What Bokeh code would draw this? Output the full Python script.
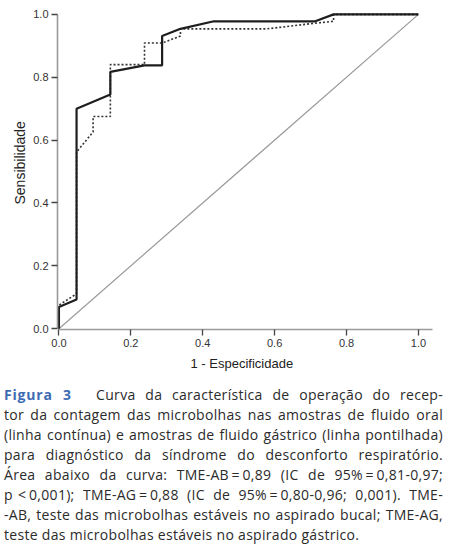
from bokeh.plotting import figure
from bokeh.models import Range1d, FixedTicker, PrintfTickFormatter, Title, Div, Column
from bokeh.embed import file_html
from bokeh.resources import INLINE

# ROC curves
solid_x = [0, 0, 0.049, 0.049, 0.143, 0.143, 0.238, 0.287, 0.287, 0.338, 0.431, 0.713, 0.764, 1.0]
solid_y = [0, 0.069, 0.093, 0.700, 0.745, 0.817, 0.838, 0.838, 0.931, 0.954, 0.978, 0.978, 1.0, 1.0]

dotted_x = [0, 0, 0.049, 0.049, 0.095, 0.095, 0.143, 0.143, 0.238, 0.238, 0.287, 0.338, 0.338, 0.579, 0.713, 0.764, 0.764, 1.0]
dotted_y = [0, 0.075, 0.111, 0.562, 0.626, 0.675, 0.675, 0.840, 0.840, 0.909, 0.909, 0.931, 0.954, 0.954, 0.972, 0.978, 1.0, 1.0]

ref_x = [0, 1]
ref_y = [0, 1]

tick_values = [0.0, 0.2, 0.4, 0.6, 0.8, 1.0]
x_label = "1 - Especificidade"
y_label = "Sensibilidade"

T = "\u2009"  # thin space
caption_lines = [
    '<span style="color:#3d6cb3;font-weight:bold;letter-spacing:0.8px">Figura 3</span>&ensp;&ensp; Curva da característica de operação do recep-',
    "tor da contagem das microbolhas nas amostras de fluido oral",
    "(linha contínua) e amostras de fluido gástrico (linha pontilhada)",
    "para diagnóstico da síndrome do desconforto respiratório.",
    f"Área abaixo da curva: TME-AB{T}={T}0,89 (IC de 95%{T}={T}0,81-0,97;",
    f"p{T}{T}&lt;{T}0,001); TME-AG{T}={T}0,88 (IC de 95%{T}={T}0,80-0,96; 0,001). TME-",
    "-AB, teste das microbolhas estáveis no aspirado bucal; TME-AG,",
    "teste das microbolhas estáveis no aspirado gástrico.",
]

p = figure(frame_width=375, frame_height=317,
           min_border_left=57, min_border_right=24, min_border_top=12, min_border_bottom=55,
           x_range=Range1d(-0.004, 1.0391), y_range=Range1d(-0.0026, 1.006),
           output_backend="svg", toolbar_location=None)
p.outline_line_color = None
p.grid.visible = False
p.background_fill_color = "white"
p.border_fill_color = "white"

for ax in (p.xaxis[0], p.yaxis[0]):
    ax.ticker = FixedTicker(ticks=tick_values)
    ax.formatter = PrintfTickFormatter(format="%.1f")
    ax.axis_line_color = "#9a9a9a"
    ax.axis_line_width = 1.6
    ax.major_tick_line_color = "#444444"
    ax.major_tick_line_width = 1.3
    ax.major_tick_out = 6
    ax.major_tick_in = 0
    ax.minor_tick_line_color = None
    ax.major_label_text_font = "Liberation Sans"
    ax.major_label_text_font_size = "11px"
    ax.major_label_text_color = "#333333"
p.xaxis[0].bounds = (0, 1.0391)
p.yaxis[0].bounds = (0, 1.0)
p.xaxis[0].major_label_standoff = 3
p.yaxis[0].major_label_standoff = 3

p.line(ref_x, ref_y, line_color="#9a9a9a", line_width=1.2)
p.line(dotted_x, dotted_y, line_color="#333333", line_width=1.6, line_dash="2 2")
p.line(solid_x, solid_y, line_color="#1e1e1e", line_width=2.2)

p.add_layout(Title(text=x_label, align="left", offset=133, vertical_align="middle", standoff=10,
                   text_font="Liberation Sans", text_font_size="13px", text_font_style="normal",
                   text_color="#222222"), "below")
p.add_layout(Title(text=y_label, align="left", offset=125, vertical_align="middle", standoff=4,
                   text_font="Liberation Sans", text_font_size="14px", text_font_style="normal",
                   text_color="#222222"), "left")

line_html = []
for i, t in enumerate(caption_lines):
    if i < len(caption_lines) - 1:
        style = "text-align:justify;text-align-last:justify;white-space:nowrap;"
    else:
        style = "text-align:left;white-space:nowrap;"
    line_html.append(f'<div style="{style}">{t}</div>')

html = ('<div style="font-family:\'Open Sans\';font-size:14px;line-height:20px;color:#2b2b2b;'
        'letter-spacing:0.3px;width:439px;margin-left:4px;padding-top:1px;">' + "".join(line_html) + "</div>")
cap = Div(text=html, width=460, margin=(0, 0, 0, 0))

layout = Column(p, cap, spacing=0)
open("out.html", "w").write(file_html(layout, INLINE))
